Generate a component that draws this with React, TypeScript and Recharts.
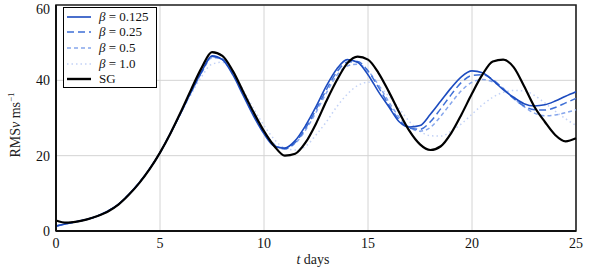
import { LineChart, Line, XAxis, YAxis, CartesianGrid, Legend, ReferenceArea } from "recharts";

// time axis, half-day steps
const tDays = [
  0, 0.5, 1, 1.5, 2, 2.5, 3, 3.5, 4, 4.5, 5, 5.5, 6, 6.5, 7, 7.5, 8, 8.5, 9, 9.5,
  10, 10.5, 11, 11.5, 12, 12.5, 13, 13.5, 14, 14.5, 15, 15.5, 16, 16.5, 17, 17.5, 18, 18.5, 19, 19.5,
  20, 20.5, 21, 21.5, 22, 22.5, 23, 23.5, 24, 24.5, 25,
];

const sg = [
  2.8, 2.2, 2.5, 3.1, 4.0, 5.2, 7.0, 9.6, 12.7, 16.4, 20.8, 25.9, 31.6, 37.6, 43.3, 47.5, 46.5, 42.5, 37, 31.5,
  26.5, 22.5, 20, 20.5, 23.5, 28.5, 34.5, 40, 44.5, 46.3, 45.5, 42, 37, 31.5, 26.5, 23, 21.5, 22.5, 26, 31,
  36.5, 41.5, 45, 45.5, 43.5, 38.5, 33, 29, 25.5, 23.8, 24.6,
];

const beta0125 = [
  1.3, 1.9, 2.5, 3.1, 4.0, 5.3, 7.1, 9.7, 12.8, 16.5, 20.8, 25.9, 31.4, 37, 42.3, 46.5, 45.5, 41.5, 36, 30.5,
  25.8, 22.5, 22, 24, 28, 33, 38.5, 43, 45.5, 44.8, 41.5, 37, 33, 29, 27.6, 28, 31, 34.5, 38, 41,
  42.5, 42, 40, 37.5, 35.5, 33.8, 33.2, 33.5, 34.5, 35.8, 37,
];

const beta025 = [
  1.3, 1.9, 2.5, 3.1, 4.0, 5.3, 7.1, 9.7, 12.8, 16.5, 20.8, 25.9, 31.4, 37, 42.2, 46.3, 45.6, 41.8, 36.3, 30.8,
  26, 22.7, 21.8, 23.5, 27.3, 32.2, 37.5, 42.2, 44.8, 45, 42.5, 38.2, 33.5, 29.5, 27.3, 27, 29, 32.5, 36.2, 39.5,
  41.3, 41.5, 40.2, 37.8, 35.2, 33.2, 32.2, 32.1, 32.8, 34, 35.2,
];

const beta05 = [
  1.3, 1.9, 2.5, 3.1, 4.0, 5.3, 7.1, 9.7, 12.8, 16.5, 20.8, 25.9, 31.3, 36.8, 42, 46, 45.6, 42, 36.8, 31.2,
  26.4, 23, 22, 23.3, 26.8, 31.5, 36.7, 41.3, 43.8, 44.3, 42.5, 38.8, 34.3, 30.2, 27.5, 26.5, 27.5, 30.5, 34, 37.3,
  39.5, 40.2, 39.6, 37.8, 35.3, 33, 31.3, 30.6, 30.8, 31.4, 32.2,
];

const beta10 = [
  1.3, 1.9, 2.5, 3.1, 4.0, 5.3, 7.1, 9.7, 12.8, 16.4, 20.7, 25.7, 31, 36.3, 41, 44.3, 44.8, 42, 37.5, 32.5,
  28, 24.3, 22, 21.5, 22.5, 25.5, 29, 33, 36.3, 38.6, 39.5, 38.5, 35.8, 32.5, 29, 26.5, 25.3, 25.2, 26.5, 28.5,
  31, 33.5, 35.5, 36.8, 37.3, 37.2, 36, 34, 31.8, 29.8, 28,
];

const xTicks = [0, 5, 10, 15, 20, 25];
const yTicks = [0, 20, 40, 60];

const series = [
  { key: "b10", label: "1.0", color: "#c3d2f6", width: 1.5, dash: "1.5 3" },
  { key: "b05", label: "0.5", color: "#86a6ec", width: 1.5, dash: "4 3" },
  { key: "b025", label: "0.25", color: "#3e6fd6", width: 1.5, dash: "7 4" },
  { key: "b0125", label: "0.125", color: "#1c4bbf", width: 1.6, dash: undefined },
  { key: "sg", label: "SG", color: "#000000", width: 2.2, dash: undefined },
];

const data = tDays.map((t, i) => ({
  t,
  sg: sg[i],
  b0125: beta0125[i],
  b025: beta025[i],
  b05: beta05[i],
  b10: beta10[i],
}));

const FONT = "Liberation Serif, DejaVu Serif, serif";

const legendOrder = ["b0125", "b025", "b05", "b10", "sg"];

const renderLegend = () => (
  <div
    style={{
      boxSizing: "border-box",
      width: 94,
      height: 81,
      border: "1.5px solid #000",
      background: "#fff",
      paddingTop: 1,
      fontFamily: FONT,
      fontSize: 13,
      color: "#111",
    }}
  >
    {legendOrder.map((k) => {
      const s = series.find((x) => x.key === k)!;
      return (
        <div key={k} style={{ display: "flex", alignItems: "center", height: 15.6 }}>
          <svg width={24} height={10} style={{ marginLeft: 3, flex: "none" }}>
            <line x1={0} y1={5} x2={24} y2={5} stroke={s.color} strokeWidth={s.key === "sg" ? 2.4 : 1.6} strokeDasharray={s.dash} />
          </svg>
          <span style={{ marginLeft: 8, whiteSpace: "nowrap" }}>
            {s.key === "sg" ? (
              "SG"
            ) : (
              <>
                <i>β</i> = {s.label}
              </>
            )}
          </span>
        </div>
      );
    })}
  </div>
);

// serif tick labels, drawn by hand so the font is surely applied
const XTick = (props: any) => {
  const { x, y, payload } = props;
  return (
    <text x={x} y={y + 13} textAnchor="middle" fontFamily={FONT} fontSize={14} fill="#111">
      {payload.value}
    </text>
  );
};

const YTick = (props: any) => {
  const { x, y, payload } = props;
  return (
    <text x={x} y={y + 5} textAnchor="end" fontFamily={FONT} fontSize={14} fill="#111">
      {payload.value}
    </text>
  );
};

const YLabel = () => (
  <text
    x={20}
    y={125}
    transform="rotate(-90, 20, 125)"
    textAnchor="middle"
    fontFamily={FONT}
    fontSize={14}
    fill="#222"
  >
    RMS<tspan fontStyle="italic">v</tspan> ms<tspan fontSize={9} dy={-6}>−1</tspan>
  </text>
);

const XLabel = () => (
  <text x={313} y={264} textAnchor="middle" fontFamily={FONT} fontSize={14} fill="#222">
    <tspan fontStyle="italic">t</tspan> days
  </text>
);

export default function App() {
  return (
    <div style={{ position: "absolute", left: 0, top: 0, width: 598, height: 276, background: "#fff", fontFamily: FONT }}>
      <LineChart
        width={598}
        height={276}
        data={data}
        margin={{ top: 5, right: 22, bottom: 0, left: 0 }}
        style={{ fontFamily: FONT }}
      >
        <CartesianGrid stroke="#d4d4d4" strokeWidth={1} />
        <XAxis
          dataKey="t"
          type="number"
          domain={[0, 25]}
          ticks={xTicks}
          height={45}
          tickLine={false}
          tickSize={4}
          tickMargin={0}
          axisLine={{ stroke: "#111", strokeWidth: 2 }}
          tick={<XTick />}
          label={{ content: () => <XLabel /> }}
        />
        <YAxis
          type="number"
          domain={[0, 60]}
          ticks={yTicks}
          width={56}
          tickLine={false}
          tickSize={4}
          tickMargin={2}
          axisLine={{ stroke: "#111", strokeWidth: 2 }}
          tick={<YTick />}
          label={{ content: () => <YLabel /> }}
        />
        <ReferenceArea x1={0} x2={25} y1={0} y2={60} fill="none" stroke="#222" strokeWidth={1.6} />
        {series.map((s) => (
          <Line
            key={s.key}
            type="monotone"
            dataKey={s.key}
            stroke={s.color}
            strokeWidth={s.width}
            strokeDasharray={s.dash}
            dot={false}
            activeDot={false}
            isAnimationActive={false}
          />
        ))}
        <Legend
          layout="vertical"
          align="center"
          verticalAlign="middle"
          content={renderLegend}
          wrapperStyle={{ left: 63, top: 7, width: 94, height: 81 }}
        />
      </LineChart>
    </div>
  );
}
